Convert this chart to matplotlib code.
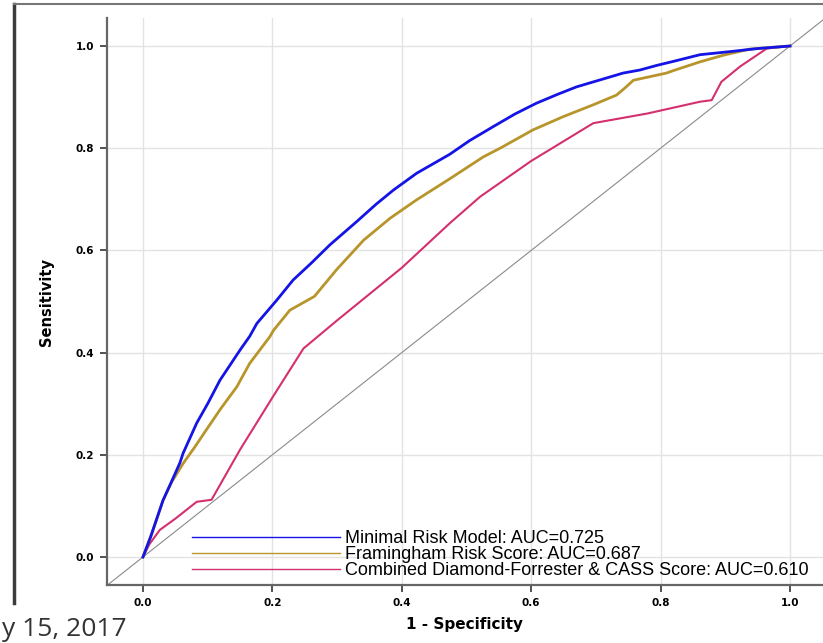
import matplotlib
matplotlib.use("Agg")
from matplotlib import pyplot as plt
from matplotlib.lines import Line2D

# ROC curves
MRM_X = [0, 0.012, 0.031, 0.045, 0.057, 0.062, 0.083, 0.100, 0.119, 0.150, 0.165, 0.176,
         0.207, 0.232, 0.260, 0.289, 0.330, 0.360, 0.387, 0.423, 0.474, 0.505, 0.541,
         0.575, 0.608, 0.640, 0.670, 0.710, 0.742, 0.768, 0.794, 0.820, 0.861, 0.907,
         0.950, 1.0]
MRM_Y = [0, 0.040, 0.111, 0.150, 0.184, 0.203, 0.262, 0.300, 0.346, 0.405, 0.432, 0.457,
         0.503, 0.542, 0.575, 0.611, 0.656, 0.690, 0.718, 0.751, 0.788, 0.815, 0.842,
         0.867, 0.888, 0.905, 0.920, 0.935, 0.947, 0.953, 0.962, 0.970, 0.983, 0.989,
         0.995, 1.0]

FRS_X = [0, 0.012, 0.031, 0.045, 0.062, 0.080, 0.098, 0.120, 0.145, 0.165, 0.196, 0.202,
         0.227, 0.265, 0.299, 0.341, 0.382, 0.423, 0.474, 0.526, 0.552, 0.603, 0.650,
         0.696, 0.732, 0.745, 0.758, 0.809, 0.820, 0.861, 0.897, 0.938, 1.0]
FRS_Y = [0, 0.040, 0.111, 0.148, 0.183, 0.215, 0.249, 0.290, 0.333, 0.379, 0.431, 0.444,
         0.483, 0.510, 0.562, 0.620, 0.663, 0.699, 0.740, 0.783, 0.800, 0.836, 0.862,
         0.885, 0.904, 0.918, 0.933, 0.947, 0.952, 0.969, 0.982, 0.994, 1.0]

DFC_X = [0, 0.010, 0.026, 0.050, 0.083, 0.106, 0.150, 0.201, 0.248, 0.300, 0.400, 0.474,
         0.521, 0.600, 0.696, 0.780, 0.861, 0.879, 0.894, 0.923, 0.964, 1.0]
DFC_Y = [0, 0.025, 0.053, 0.075, 0.108, 0.112, 0.210, 0.314, 0.408, 0.463, 0.566, 0.653,
         0.705, 0.775, 0.849, 0.868, 0.891, 0.894, 0.930, 0.960, 0.995, 1.0]

LABELS = ["Minimal Risk Model: AUC=0.725",
          "Framingham Risk Score: AUC=0.687",
          "Combined Diamond-Forrester & CASS Score: AUC=0.610"]
COLORS = ["#1414e6", "#b8952a", "#d42f6e"]
TICKS = [0.0, 0.2, 0.4, 0.6, 0.8, 1.0]

fig = plt.figure(figsize=(8.23, 6.43), dpi=100)
ax = fig.add_axes([107 / 823, 58 / 643, 716 / 823, 567 / 643])

ax.axline((0, 0), (1, 1), color="#8a8a8a", lw=0.8, zorder=1)
ax.plot(MRM_X, MRM_Y, color=COLORS[0], lw=2.0, zorder=4)
ax.plot(FRS_X, FRS_Y, color=COLORS[1], lw=2.0, zorder=3)
ax.plot(DFC_X, DFC_Y, color=COLORS[2], lw=1.5, zorder=2)

ax.set_xlim(-0.0556, 1.051)
ax.set_ylim(-0.0548, 1.0548)
ax.set_xticks(TICKS)
ax.set_yticks(TICKS)
ax.set_xticklabels([f"{t:.1f}" for t in TICKS])
ax.set_yticklabels([f"{t:.1f}" for t in TICKS])
ax.grid(True, color="#e3e3e3", lw=1.0)
ax.set_axisbelow(True)
ax.tick_params(direction="out", length=5, width=1.2, color="#333333",
               labelsize=7.5, pad=4)
for lab in ax.get_xticklabels() + ax.get_yticklabels():
    lab.set_fontweight("bold")
for side in ["top", "right"]:
    ax.spines[side].set_visible(False)
for side in ["left", "bottom"]:
    ax.spines[side].set_color("#666666")
    ax.spines[side].set_linewidth(1.6)

ax.set_xlabel("1 - Specificity", fontsize=11, fontweight="bold", labelpad=7)
ax.set_ylabel("Sensitivity", fontsize=10.5, fontweight="semibold", labelpad=16)

handles = [Line2D([], [], color=c, lw=1.0) for c in COLORS]
ax.legend(handles, LABELS, loc="upper left", bbox_to_anchor=(0.1187, 0.097),
          frameon=False, borderpad=0, borderaxespad=0, handlelength=8.2,
          handletextpad=0.3, labelspacing=-0.06,
          prop={"family": "Liberation Sans", "size": 13})

# slide frame around the chart
fig.add_artist(Line2D([14 / 823, 14 / 823], [1 - 4 / 643, 1 - 603 / 643],
                      color="#3c3c3c", lw=2.5))
fig.add_artist(Line2D([14 / 823, 1.0], [1 - 4 / 643, 1 - 4 / 643],
                      color="#777777", lw=1.5))
fig.text(0.002, 0.002, "y 15, 2017", fontsize=19, color="#333333",
         family="Open Sans", ha="left", va="bottom")

fig.savefig("out.png", dpi=100)
